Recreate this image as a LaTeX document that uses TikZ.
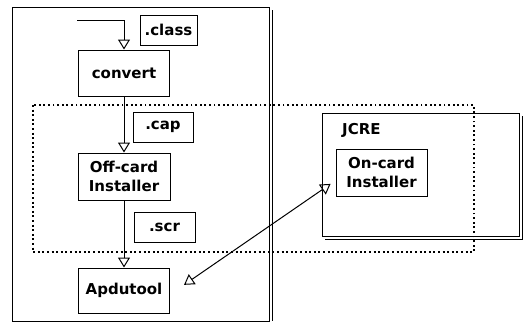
\documentclass[tikz,border=0pt]{standalone}
\usepackage{fontspec}
\setmainfont{DejaVu Sans}
\usetikzlibrary{arrows.meta}

\begin{document}
\begin{tikzpicture}[x=1pt,y=-1pt,>={Triangle[open,length=10pt,width=12pt]},
  box/.style={draw,line width=1pt,inner sep=0pt,align=center,font=\fontsize{15}{18.5}\selectfont\bfseries},
  frame/.style={line width=1pt},
  flow/.style={line width=1pt,->},
  cardzone/.style={line width=1.9pt,dash pattern=on 1.9pt off 2.7pt}]
  \useasboundingbox (0,0) rectangle (526,324);
  \draw[frame] (12,7) rectangle (269,321);
  \draw[frame] (272,10) -- (272,321);
  \draw[frame] (322,113) rectangle (519,236);
  \draw[frame] (325,239) -- (522,239) -- (522,116);
  \node[box,minimum width=57pt,minimum height=30pt] (class) at (168.5,30) {.class};
  \node[box,minimum width=91pt,minimum height=46pt] (convert) at (124,73) {convert};
  \node[box,minimum width=60pt,minimum height=30pt] (cap) at (163,127) {.cap};
  \node[box,minimum width=92pt,minimum height=47pt] (offcard) at (124,176.5) {Off-card\\Installer};
  \node[box,minimum width=61pt,minimum height=30pt] (scr) at (164.5,227) {.scr};
  \node[box,minimum width=91pt,minimum height=45pt] (apdu) at (124,290.5) {Apdutool};
  \node[font=\fontsize{15}{18.5}\selectfont\bfseries,inner sep=0pt,anchor=west] (jcre) at (342,130) {JCRE};
  \node[box,minimum width=91pt,minimum height=47pt] (oncard) at (381.5,172.5) {On-card\\Installer};
  \coordinate (src) at (77,20);
  \draw[flow] (src) -| (convert.north);
  \draw[flow] (convert) -- (offcard);
  \draw[flow] (offcard) -- (apdu);
  \draw[line width=1pt,<->,shorten <=17pt,shorten >=6pt] ([yshift=-4pt]apdu.east) -- ([yshift=-8pt]oncard.west);
  \draw[cardzone] (33,105) rectangle (474,252);
\end{tikzpicture}
\end{document}
